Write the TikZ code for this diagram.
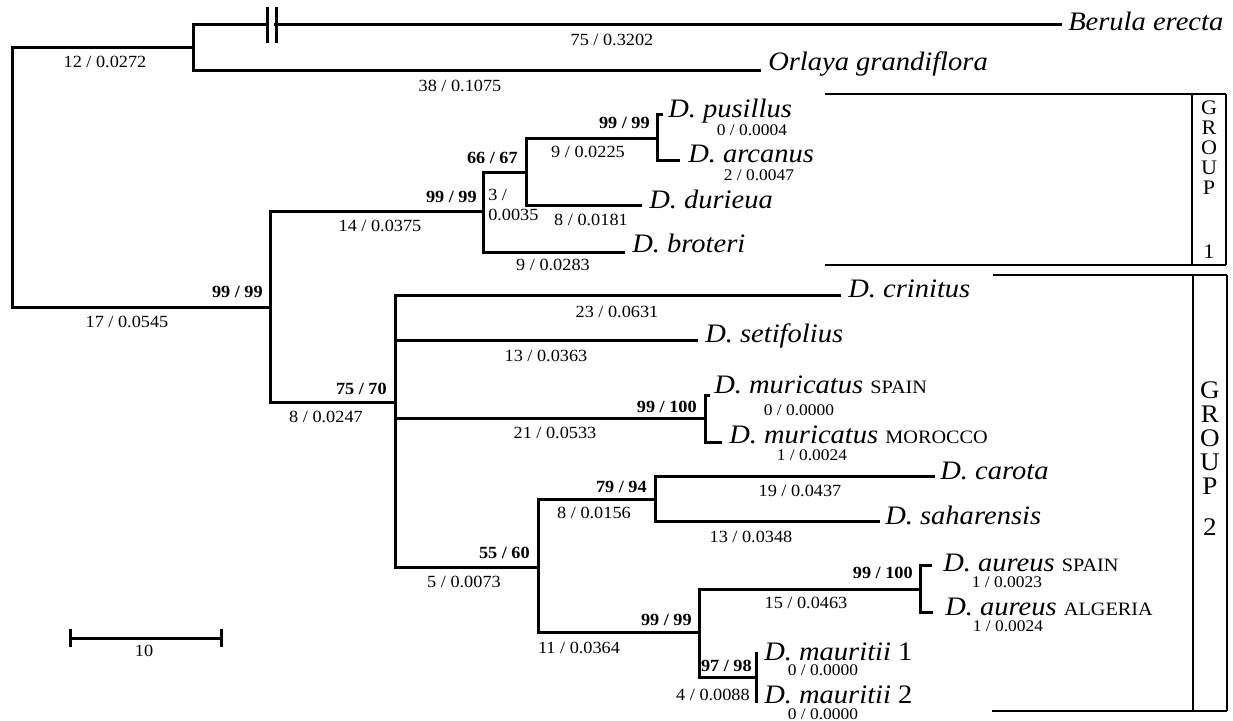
\documentclass[tikz,border=0pt]{standalone}
\usepackage{fontspec}
\setmainfont{Liberation Serif}[FakeStretch=1.07]
\newcommand{\cp}[1]{{\upshape\fontsize{14.2}{15}\selectfont #1}}
\begin{document}
\begin{tikzpicture}[x=0.75pt,y=-0.75pt,
 br/.style={line width=2.25pt},
 bx/.style={line width=1.5pt},
 bxthin/.style={line width=1.1pt},
 lab/.style={font=\fontsize{12.8}{13}\selectfont, inner sep=0pt},
 bs/.style={font=\fontsize{12.8}{13}\selectfont\bfseries, inner sep=0pt, anchor=east},
 tl/.style={font=\fontsize{12.2}{13}\selectfont, inner sep=0pt},
 sp/.style={font=\fontsize{20}{21}\selectfont\itshape, inner sep=0pt, anchor=base west},
 gl/.style={font=\fontsize{15.5}{16}\selectfont, inner sep=0pt},
 gm/.style={font=\fontsize{19}{20}\selectfont, inner sep=0pt}]
\useasboundingbox (0,0) rectangle (1233,721);
% internal nodes and tips
\coordinate (root) at (12,177);
\coordinate (n0) at (193,47);
\coordinate (ber) at (1062,24);
\coordinate (orl) at (761,70);
\coordinate (n1) at (270,307);
\coordinate (g1) at (483,211);
\coordinate (n66) at (526,172);
\coordinate (n99a) at (657,138);
\coordinate (pus) at (663,114);
\coordinate (arc) at (680,160);
\coordinate (dur) at (642,205);
\coordinate (bro) at (625,252);
\coordinate (g2) at (395,402);
\coordinate (cri) at (841,295);
\coordinate (set) at (698,340);
\coordinate (mur) at (705,418);
\coordinate (murS) at (710,395);
\coordinate (murM) at (722,442);
\coordinate (n55) at (538,567);
\coordinate (n79) at (655,499);
\coordinate (car) at (935,476);
\coordinate (sah) at (880,521);
\coordinate (n99b) at (699,632);
\coordinate (aur) at (920,589);
\coordinate (aurS) at (932,565);
\coordinate (aurA) at (933,612);
\coordinate (mau) at (756,677);
\coordinate (mau1) at (756,652);
\coordinate (mau2) at (756,703);
% branches
\draw[br] (n0) -| (root) |- (n1);
\draw[br] (ber) -| (n0) |- (orl);
\draw[br] (g1) -| (n1) |- (g2);
\draw[br] (n66) -| (g1) |- (bro);
\draw[br] (n99a) -| (n66) |- (dur);
\draw[br] (pus) -| (n99a) |- (arc);
\draw[br] (cri) -| (g2) |- (n55);
\draw[br] (g2 |- set) -- (set);
\draw[br] (g2 |- mur) -- (mur);
\draw[br] (murS) -| (mur) |- (murM);
\draw[br] (n79) -| (n55) |- (n99b);
\draw[br] (car) -| (n79) |- (sah);
\draw[br] (aur) -| (n99b) |- (mau);
\draw[br] (aurS) -| (aur) |- (aurA);
\draw[br] (mau1) -- (mau2);
% break marks
\fill[white] (268.6,18) rectangle (274.4,30);
\draw[br] (267,7) -- (267,43) (276,7) -- (276,43);
% species
\node[sp] (tBer) at (1068,31) {Berula erecta};
\node[sp] (tOrl) at (768,70) {Orlaya grandiflora};
\node[sp] (tPus) at (668,117) {D. pusillus};
\node[sp] (tArc) at (688,162) {D. arcanus};
\node[sp] (tDur) at (649,208) {D. durieua};
\node[sp] (tBro) at (632,252) {D. broteri};
\node[sp] (tCri) at (848,297) {D. crinitus};
\node[sp] (tSet) at (705,342) {D. setifolius};
\node[sp] (tMurS) at (714,393) {D. muricatus \cp{SPAIN}};
\node[sp] (tMurM) at (729,443) {D. muricatus \cp{MOROCCO}};
\node[sp] (tCar) at (940,479) {D. carota};
\node[sp] (tSah) at (885,524) {D. saharensis};
\node[sp] (tAurS) at (943,571) {D. aureus \cp{SPAIN}};
\node[sp] (tAurA) at (945,615) {D. aureus \cp{ALGERIA}};
\node[sp] (tMau1) at (764,660) {D. mauritii \upshape 1};
\node[sp] (tMau2) at (764,703) {D. mauritii \upshape 2};
% branch labels
\node[lab] (l1) at (612,40) {75 / 0.3202};
\node[lab] (l2) at (460,86) {38 / 0.1075};
\node[lab] (l3) at (105,62) {12 / 0.0272};
\node[lab] (l4) at (127,322) {17 / 0.0545};
\node[bs] (b1) at (263,292) {99 / 99};
\node[lab] (l5) at (380,226) {14 / 0.0375};
\node[bs] (b2) at (477,197) {99 / 99};
\node[lab,anchor=west] (l6) at (488,195) {3 /};
\node[lab,anchor=west] (l7) at (488,215) {0.0035};
\node[bs] (b3) at (518,158) {66 / 67};
\node[lab] (l8) at (588,152) {9 / 0.0225};
\node[lab] (l9) at (591,220) {8 / 0.0181};
\node[lab] (l10) at (553,265) {9 / 0.0283};
\node[bs] (b4) at (650,123) {99 / 99};
\node[tl] (t1) at (752,130) {0 / 0.0004};
\node[tl] (t2) at (759,175) {2 / 0.0047};
\node[lab] (l11) at (326,417) {8 / 0.0247};
\node[bs] (b5) at (387,389) {75 / 70};
\node[lab] (l12) at (617,312) {23 / 0.0631};
\node[lab] (l13) at (546,356) {13 / 0.0363};
\node[bs] (b6) at (697,407) {99 / 100};
\node[lab] (l14) at (555,433) {21 / 0.0533};
\node[tl] (t3) at (799,410) {0 / 0.0000};
\node[tl] (t4) at (812,455) {1 / 0.0024};
\node[lab] (l15) at (800,491) {19 / 0.0437};
\node[bs] (b7) at (647,487) {79 / 94};
\node[lab] (l16) at (594,513) {8 / 0.0156};
\node[lab] (l17) at (751,537) {13 / 0.0348};
\node[bs] (b8) at (530,553) {55 / 60};
\node[lab] (l18) at (464,582) {5 / 0.0073};
\node[bs] (b9) at (692,620) {99 / 99};
\node[lab] (l19) at (579,648) {11 / 0.0364};
\node[bs] (b10) at (913,573) {99 / 100};
\node[lab] (l20) at (806,603) {15 / 0.0463};
\node[tl] (t5) at (1007,582) {1 / 0.0023};
\node[tl] (t6) at (1008,626) {1 / 0.0024};
\node[bs] (b11) at (752,666) {97 / 98};
\node[lab,anchor=east] (l21) at (750,695) {4 / 0.0088};
\node[tl] (t7) at (823,670) {0 / 0.0000};
\node[tl] (t8) at (823,714) {0 / 0.0000};
% group boxes
\draw[bx] (825,94) -- (1226,94) (825,265) -- (1226,265) (1226,94) -- (1226,265);
\draw[bxthin] (1192,94) -- (1192,265);
\draw[bx] (993,275) -- (1227,275) (992,711) -- (1227,711) (1227,275) -- (1227,711);
\draw[bxthin] (1193,275) -- (1193,711);
\node[gl] (g1G) at (1209,108) {G};
\node[gl] (g1R) at (1209,128) {R};
\node[gl] (g1O) at (1209,148) {O};
\node[gl] (g1U) at (1209,168) {U};
\node[gl] (g1P) at (1209,188) {P};
\node[gl] (g11) at (1209,252) {1};
\node[gm] (g2G) at (1210,390) {G};
\node[gm] (g2R) at (1210,414) {R};
\node[gm] (g2O) at (1210,438) {O};
\node[gm] (g2U) at (1210,462) {U};
\node[gm] (g2P) at (1210,486) {P};
\node[gm] (g22) at (1210,527) {2};
% scale bar
\coordinate (sb1) at (70,638);
\coordinate (sb2) at (221,638);
\draw[br] (sb1) -- (sb2);
\draw[br] ([yshift=7]sb1) -- ([yshift=-7]sb1);
\draw[br] ([yshift=7]sb2) -- ([yshift=-7]sb2);
\node[lab] (sbl) at (144,651) {10};
\end{tikzpicture}
\end{document}
